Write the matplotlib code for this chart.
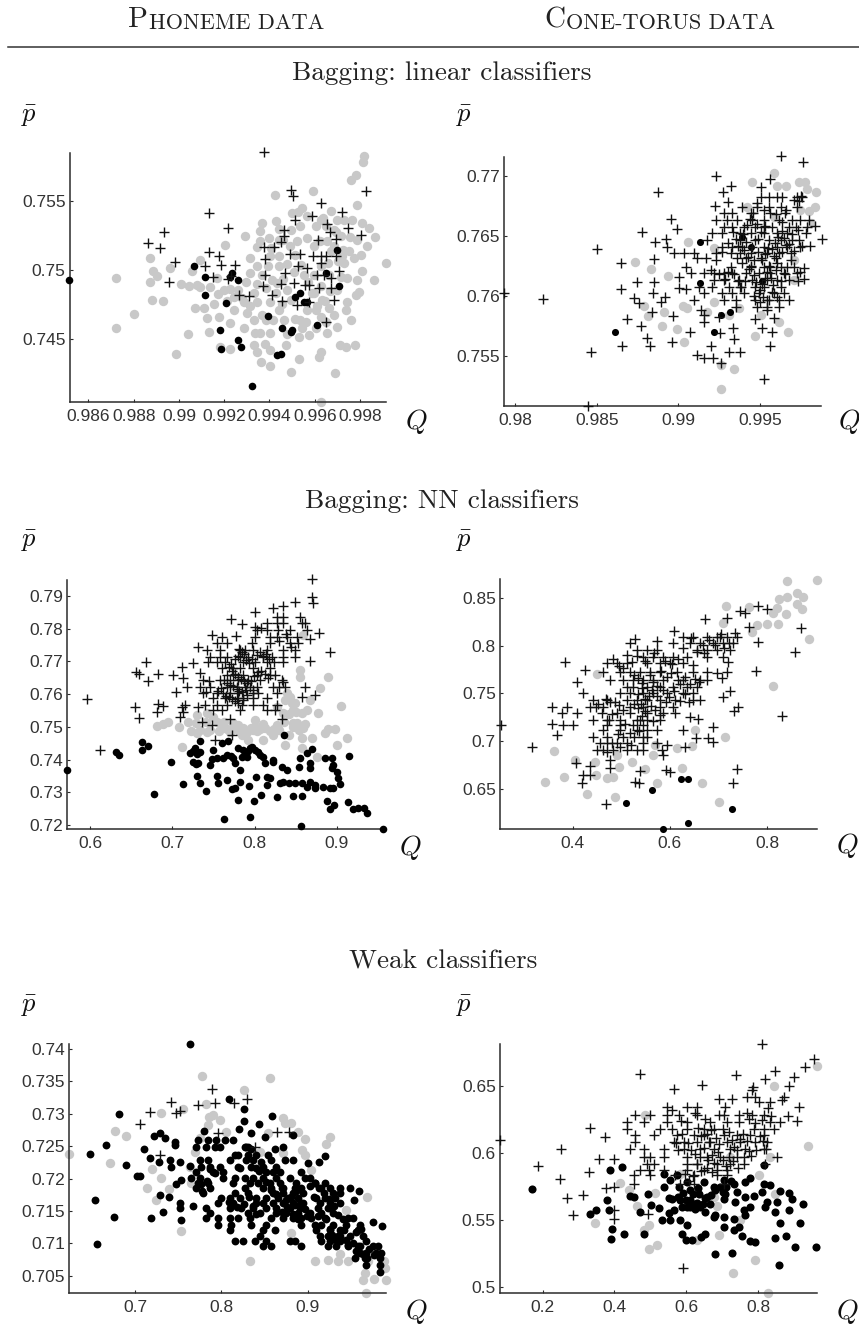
import matplotlib
matplotlib.use("Agg")
import matplotlib.pyplot as plt

W, H = 859, 1328

section_titles = ["Bagging: linear classifiers", "Bagging: NN classifiers", "Weak classifiers"]

a_xticks = [.986, .988, .99, .992, .994, .996, .998]
a_yticks = [.745, .75, .755]
a_xlabels = ["0.986", "0.988", "0.99", "0.992", "0.994", "0.996", "0.998"]
a_ylabels = ["0.745", "0.75", "0.755"]
a_plus = [(.99376,.75857),(.99496,.75586),(.99505,.75538),(.99626,.75489),(.99828,.75574),(.99719,.75426),(.99589,.75392),(.99511,.75368),(.99655,.75339),(.99748,.75307),(.99463,.75295),(.99667,.75278),(.99465,.75247),(.99806,.75259),(.99695,.7523),(.99614,.75223),(.99452,.75203),(.99419,.7517),(.99375,.7517),(.99378,.75082),(.99133,.75414),(.99217,.75307),(.98934,.75278),(.98861,.75199),(.98917,.75165),(.98984,.75058),(.98957,.7492),(.99134,.75133),(.99178,.75102),(.99117,.75029),(.99187,.75041),(.99246,.75041),(.99149,.74952),(.99217,.74937),(.99232,.74961),(.99266,.74823),(.99308,.74816),(.99382,.74969),(.9937,.74884),(.99412,.74823),(.99453,.74901),(.99456,.7478),(.99467,.74981),(.9949,.75121),(.99537,.75121),(.99527,.75029),(.99508,.74908),(.99523,.74751),(.99574,.74768),(.99555,.74896),(.99574,.74896),(.99567,.75017),(.99593,.75102),(.99629,.75102),(.99648,.75102),(.99629,.75053),(.99608,.74969),(.99641,.74969),(.99618,.74872),(.9967,.74872),(.99673,.74944),(.99685,.74787),(.99707,.74993),(.99692,.75102),(.99652,.7463)]
a_black = [(.98516,.74932),(.99065,.75029),(.99115,.74956),(.99117,.74823),(.99208,.74763),(.99234,.74981),(.99224,.74952),(.9926,.74932),(.99183,.74569),(.99261,.74496),(.99272,.74443),(.99187,.74431),(.99323,.74165),(.99393,.7467),(.99456,.74586),(.995,.74569),(.99496,.74552),(.99434,.74387),(.99452,.74395),(.99511,.74806),(.99537,.74835),(.99552,.74775),(.99567,.74775),(.99611,.74605),(.99648,.74981),(.99707,.74891),(.997,.7515)]
a_gray = [(.98721,.74944),(.98721,.74586),(.98802,.74685),(.9887,.7509),(.98885,.74993),(.98903,.74961),(.9887,.7492),(.9888,.74787),(.98928,.74782),(.98988,.74395),(.98962,.75017),(.99009,.74903),(.99043,.74884),(.99038,.7454),(.99072,.74726),(.99818,.75828),(.99813,.75787),(.99781,.75688),(.99762,.75659),(.99917,.75053),(.99424,.75545),(.99592,.75574),(.99545,.75453),(.99501,.75416),(.99788,.75477),(.9967,.75429),(.99567,.75392),(.99367,.75344),(.99431,.75356),(.9936,.75283),(.99291,.75252),(.99397,.75235),(.99537,.7532),(.99626,.75368),(.997,.75368),(.99766,.75368),(.9981,.75344),(.9984,.75307),(.99865,.75242),(.99832,.75174),(.99202,.75182),(.99094,.75077),(.99316,.7509),(.99774,.7509),(.9981,.74993),(.99862,.74932),(.99788,.74932),(.99796,.74847),(.99781,.74823),(.99744,.74775),(.99737,.74714),(.99762,.74642),(.997,.74593),(.99655,.74545),(.99711,.7446),(.99737,.74443),(.99776,.7446),(.99629,.74412),(.99621,.74375),(.9953,.74358),(.99496,.74266),(.99689,.74259),(.99626,.74048),(.99404,.74308),(.99363,.74339),(.99404,.74424),(.99331,.7446),(.99227,.74429),(.99183,.74448),(.99134,.74552),(.99176,.74666),(.99227,.74617),(.99286,.74581),(.99338,.74545),(.99404,.74545),(.99471,.7446),(.9953,.74521),(.99574,.74533),(.99124,.74654),(.99112,.74726),(.99154,.74758),(.9908,.74896),(.99094,.74879),(.99058,.74993),(.99168,.74944),(.99198,.7486),(.99242,.74811),(.99286,.74775),(.99242,.74714),(.99301,.7469),(.99345,.74775),(.99331,.74642),(.99316,.74981),(.99345,.75029),(.99404,.75102),(.99441,.75029),(.99434,.74908),(.99404,.74775),(.99441,.74714),(.99463,.74642),(.99493,.74787),(.99537,.74642),(.99567,.74714),(.99545,.74581),(.99604,.74714),(.99626,.74666),(.99663,.74726),(.99596,.74835),(.99633,.74787),(.99685,.74678),(.997,.7486),(.99744,.74944),(.99729,.75053),(.99751,.75138),(.99788,.75223),(.99714,.75247),(.99655,.75211),(.99567,.75235),(.99522,.75211),(.99493,.75295),(.99441,.75223),(.9936,.75211),(.99441,.75102),(.99596,.75174),(.9967,.75138),(.99722,.75102),(.99604,.7532),(.99685,.75295),(.99729,.75368),(.99626,.75029),(.99508,.7499),(.99552,.74966),(.99385,.74642),(.99512,.7465),(.99658,.75055),(.99492,.7518),(.99385,.74875),(.99225,.74868),(.99596,.74968)]
a_gray_dense = [(.99623,.7521),(.99648,.7532),(.99683,.7518),(.99704,.7507),(.99661,.7497),(.99626,.7489),(.99644,.7478),(.99609,.7474),(.99587,.7484),(.99571,.7492),(.99538,.7504),(.99513,.7511),(.99477,.7505),(.99461,.7494),(.99479,.7486),(.99456,.7476),(.99428,.7484),(.99409,.7493),(.99392,.7503),(.99366,.7497),(.99346,.7490),(.99331,.7484),(.99312,.7474),(.99368,.7468),(.99417,.7464),(.99358,.7455),(.99381,.7447),(.99346,.7441),(.99478,.7454),(.99563,.7463),(.99604,.7458),(.99648,.7463),(.99668,.7485),(.99718,.7495),(.99726,.7515),(.99693,.7528),(.99636,.7538),(.99758,.7524),(.99803,.7511),(.99262,.7486),(.99278,.7480),(.99214,.7478),(.99172,.7483),(.99138,.7488),(.99296,.7492),(.99444,.7530),(.99408,.7516),(.99525,.7542),(.99458,.7522),(.99345,.7517)]

b_xticks = [.98, .985, .99, .995]
b_yticks = [.755, .76, .765, .77]
b_xlabels = ["0.98", "0.985", "0.99", "0.995"]
b_ylabels = ["0.755", "0.76", "0.765", "0.77"]
b_plus = [(.98168,.75972),(.98501,.76389),(.98464,.75528),(.98446,.75083),(.97933,.76019),(.98648,.76275),(.98648,.76058),(.98652,.75583),(.98685,.75806),(.98777,.76528),(.98875,.76861),(.98957,.76639),(.98992,.76556),(.98853,.76444),(.98922,.76472),(.9893,.76403),(.98849,.76306),(.98747,.76111),(.98726,.75978),(.98757,.75942),(.98849,.76111),(.98845,.76019),(.98839,.75861),(.98773,.7575),(.98808,.75644),(.98828,.75583),(.98961,.75617),(.98965,.75833),(.9889,.7595),(.9892,.75992),(.99002,.76158),(.99002,.76061),(.99049,.76053),(.9907,.75694),(.99094,.75964),(.99114,.75506),(.99155,.75478),(.99213,.75478),(.99258,.75442),(.99202,.75583),(.99309,.75528),(.99376,.75528),(.99343,.75639),(.99335,.75728),(.99253,.75686),(.99155,.75783),(.99155,.75839),(.99247,.75825),(.99472,.75806),(.99513,.75728),(.99574,.757),(.99564,.75583),(.99527,.75306),(.99585,.75811),(.99231,.77),(.99319,.76914),(.99274,.76861),(.99221,.76747),(.99305,.76778),(.9963,.77167),(.99762,.77111),(.99564,.76972),(.99503,.76908),(.99881,.76475),(.99809,.76414),(.9984,.76583),(.99769,.76228),(.99769,.76136),
(.99503,.76825),(.99554,.76825),(.99605,.76825),(.99636,.76825),(.99728,.76825),(.99758,.76825),
(.9939,.76742),(.99482,.76742),(.99554,.76742),(.99626,.76742),(.99728,.76742),
(.99278,.76686),(.99329,.76686),(.99442,.76686),(.99564,.76686),(.99656,.76686),
(.99227,.76631),(.99298,.76631),(.9936,.76631),(.99452,.76631),(.99523,.76631),(.99615,.76631),(.99697,.76631),(.99748,.76631),(.99799,.76631),
(.99278,.76575),(.99329,.76575),(.99401,.76575),(.99472,.76575),(.99523,.76575),(.99574,.76575),(.99677,.76575),(.99789,.76575),
(.99206,.76519),(.99268,.76519),(.9938,.76519),(.99442,.76519),(.99523,.76519),(.99605,.76519),(.99666,.76519),(.99779,.76519),
(.99176,.76464),(.9938,.76464),(.99472,.76464),(.99554,.76464),(.99626,.76464),(.99697,.76464),(.99738,.76464),
(.99268,.76408),(.99329,.76408),(.9939,.76408),(.99452,.76408),(.99523,.76408),(.99605,.76408),(.99666,.76408),(.99748,.76408),
(.98971,.76353),(.99033,.76353),(.99094,.76353),(.99227,.76353),(.99319,.76353),(.9938,.76353),(.99442,.76353),(.99544,.76353),(.99615,.76353),(.99687,.76353),
(.99114,.76311),(.99166,.76311),(.9936,.76311),(.99411,.76311),(.99503,.76311),(.99595,.76311),
(.99049,.76242),(.99319,.76242),(.99442,.76242),(.99523,.76242),(.99564,.76242),(.99626,.76242),(.99707,.76242),
(.99074,.76186),(.99155,.76186),(.99217,.76186),(.99278,.76186),(.99329,.76186),(.99411,.76186),(.99493,.76186),(.99564,.76186),(.99646,.76186),(.99728,.76186),
(.99217,.76131),(.99278,.76131),(.9937,.76131),(.99452,.76131),(.99544,.76131),(.99605,.76131),(.99677,.76131),
(.99125,.76075),(.99206,.76075),(.99309,.76075),(.9938,.76075),(.99472,.76075),(.99523,.76075),(.99626,.76075),
(.99155,.76019),(.99268,.76019),(.99329,.76019),(.99401,.76019),(.99493,.76019),(.99585,.76019),(.99646,.76019),
(.99278,.75964),(.9935,.75964),(.99472,.75964),(.99544,.75964),(.99615,.75964),(.99677,.75964),
(.9935,.75908),(.99482,.75908),(.99544,.75908),(.99615,.75908),(.99135,.75881),(.99544,.75881)]
b_plus_dense = [(.99396,.7651),(.99414,.7645),(.99402,.7638),(.99425,.7632),(.99391,.7627),(.99433,.7622),(.99462,.7617),(.99478,.7611),(.99497,.7605),(.99513,.7610),(.99528,.7615),(.99542,.7620),(.99553,.7625),(.99567,.7615),(.99581,.7609),(.99574,.7603),(.99596,.7621),(.99607,.7627),(.99587,.7633),(.99571,.7639),(.99593,.7644),(.99612,.7649),(.99634,.7654),(.99648,.7648),(.99658,.7642),(.99637,.7636),(.99486,.7647),(.99508,.7653),(.99532,.7658),(.99487,.7636),(.99463,.7630),(.99447,.7625),(.99512,.7630),(.99533,.7635),(.99547,.7640),(.99419,.7659),(.99437,.7664),(.99457,.7669),(.99483,.7660),(.99408,.7612),(.99386,.7607),(.99362,.7612),(.99342,.7618),(.99304,.7620),(.99288,.7614),(.99247,.7618),(.99199,.7621),(.99232,.7630),(.99266,.7636),(.99302,.7644),(.99336,.7653),(.99352,.7647),(.99364,.7641),(.99521,.7599),(.99498,.7595),(.99465,.7600),(.99558,.7596),(.99601,.7599),(.99627,.7612),(.99651,.7618),(.99668,.7624),(.99688,.7630),(.99708,.7637),(.99678,.7643),(.99694,.7651),(.99718,.7657),(.99636,.7661),(.99596,.7668),(.99523,.7671),(.99483,.7677),(.99662,.7671),(.99708,.7680),(.99752,.7683),(.99738,.7679),(.99733,.7655),(.99759,.7641),(.99745,.7620),(.99732,.7612)]
b_black = [(.98608,.75694),(.99131,.76444),(.99131,.76103),(.99217,.75694),(.99313,.75861),(.99258,.75839),(.99446,.76408),(.99513,.76122),(.9939,.76492)]
b_gray = [(.99585,.77025),(.99452,.76944),(.99738,.76944),(.99773,.76944),(.99605,.76914),(.99662,.76914),(.99789,.76886),(.99844,.76861),(.99834,.76742),(.99799,.76708),(.99748,.76714),(.99421,.76742),(.9981,.76603),(.99057,.76444),(.98732,.76278),(.98834,.76222),(.98935,.76167),(.98787,.75917),(.98812,.75831),(.9891,.75867),(.98896,.7575),(.98988,.75722),(.99033,.75611),(.99027,.75917),(.99053,.75894),(.99217,.75944),(.99258,.75422),(.99339,.75389),(.99258,.75222),(.99472,.75667),(.9967,.75694),(.99615,.75778),(.99503,.75839),(.9937,.75894),(.99309,.75839),(.99176,.75861),(.99707,.76297),(.99707,.76131),(.99585,.76658),(.99217,.76394)]

c_xticks = [.6, .7, .8, .9]
c_yticks = [.72, .73, .74, .75, .76, .77, .78, .79]
c_xlabels = ["0.6", "0.7", "0.8", "0.9"]
c_ylabels = ["0.72", "0.73", "0.74", "0.75", "0.76", "0.77", "0.78", "0.79"]
c_plus = [(.87012,.79516),(.87012,.78965),(.87093,.78802),(.84941,.78812),(.8352,.787),(.82302,.78629),(.80069,.78527),(.77146,.78303),(.78526,.7815),(.87905,.77864),(.86768,.77681),(.89205,.77283),(.86768,.77),(.8616,.76233),(.87377,.75979),(.85753,.75928),(.74872,.77813),(.77755,.77793),(.73167,.77457),(.66752,.76978),(.65575,.76672),(.6594,.76611),(.67077,.76417),(.68214,.76611),(.59565,.75856),(.65453,.75622),(.6598,.75285),(.6119,.74297),(.68214,.75703),(.68904,.75652),(.68173,.75449),(.70041,.7659),(.71137,.76825),(.7134,.76488),(.70406,.7608),(.71746,.76233),(.71137,.75601),(.71543,.75673),(.71259,.75469),(.70934,.75296),(.73573,.75163),(.74791,.75061),(.75197,.74602),(.77308,.74755),(.77024,.75234),(.83398,.75234),(.72477,.7695),(.7337,.76641),(.73167,.75622),
(.82708,.78374),(.8352,.78374),(.8555,.78374),
(.8149,.7817),(.82708,.7817),(.8352,.7817),(.85753,.7817),(.8616,.7817),
(.80272,.77966),(.8149,.77966),(.82911,.77966),(.84332,.77966),(.86362,.77966),
(.76009,.77762),(.80069,.77762),(.82708,.77762),(.83926,.77762),(.85144,.77762),
(.754,.77559),(.76618,.77559),(.79663,.77559),(.81896,.77559),(.84332,.77559),(.85347,.77559),
(.74182,.77355),(.75806,.77355),(.78242,.77355),(.78851,.77355),(.79866,.77355),(.8149,.77355),(.8352,.77355),(.84941,.77355),
(.74588,.77151),(.75806,.77151),(.76618,.77151),(.78242,.77151),(.79257,.77151),(.81084,.77151),(.82099,.77151),(.8352,.77151),(.84941,.77151),
(.74385,.76998),(.754,.76998),(.76415,.76998),(.78648,.76998),(.80069,.76998),(.8149,.76998),(.8352,.76998),
(.76009,.76794),(.7743,.76794),(.78242,.76794),(.79866,.76794),(.81896,.76794),
(.76618,.7659),(.7743,.7659),(.78648,.7659),(.80272,.7659),(.81896,.7659),(.82505,.7659),
(.73776,.76437),(.75806,.76437),(.77024,.76437),(.78039,.76437),(.79257,.76437),(.80678,.76437),(.83317,.76437),
(.7337,.76233),(.74588,.76233),(.76618,.76233),(.77836,.76233),(.78851,.76233),(.80272,.76233),(.82302,.76233),(.83723,.76233),
(.73776,.7603),(.754,.7603),(.77024,.7603),(.78039,.7603),(.79866,.7603),(.80475,.7603),(.82708,.7603),
(.74994,.75877),(.76415,.75877),(.77836,.75877),(.78648,.75877),(.79866,.75877),(.8149,.75877),
(.73979,.75673),(.754,.75673),(.76618,.75673),(.78445,.75673),(.79866,.75673),(.81084,.75673),(.82708,.75673),
(.74994,.7552),(.76009,.7552),(.78242,.7552),(.8149,.7552),(.82505,.7552)]
c_plus_dense = [(.7812,.7738),(.7851,.7729),(.7873,.7722),(.7794,.7718),(.7762,.7709),(.7891,.7703),(.7932,.7695),(.7973,.7708),(.8027,.7721),(.8063,.7729),(.8102,.7716),(.8136,.7724),(.8174,.7708),(.8231,.7697),(.7713,.7691),(.7688,.7682),(.7724,.7672),(.7762,.7661),(.7798,.7653),(.7834,.7646),(.7871,.7639),(.7912,.7633),(.7954,.7641),(.7992,.7654),(.8041,.7667),(.8083,.7672),(.8128,.7663),(.8167,.7648),(.7632,.7643),(.7664,.7634),(.7703,.7628),(.7742,.7624),(.7783,.7617),(.7814,.7611),(.7848,.7608),(.7893,.7614),(.7941,.7622),(.7978,.7612),(.7587,.7618),(.7551,.7611),(.7612,.7603),(.7658,.7595),(.7693,.7591),(.7728,.7584),(.7761,.7578),(.7803,.7572),(.7856,.7582),(.7908,.7596),(.7442,.7641),(.7412,.7607),(.8297,.7622),(.8345,.7637),(.8384,.7784),(.8442,.7743),(.8297,.7762),(.8191,.7775),(.8078,.7802),(.8002,.7805)]
c_black = [(.57211,.73685),(.66265,.74551),(.66265,.74297),(.67077,.74429),(.63098,.74246),(.63544,.74144),(.67767,.72951),(.69797,.7394),(.7134,.73247),(.7337,.74582),(.72152,.74215),(.72761,.74348),(.7337,.74246),(.72558,.7394),(.73167,.73889),(.72964,.73501),(.7337,.73277),(.74101,.73053),(.74588,.73838),(.74994,.74297),(.754,.74042),(.76009,.74501),(.76821,.74572),(.75481,.73501),(.75603,.73277),(.76618,.73379),(.77227,.73104),(.77633,.73124),(.76293,.72187),(.76618,.74144),(.7743,.74042),(.77633,.73889),(.78039,.74348),(.78242,.73685),(.78242,.73308),(.78039,.72768),(.78445,.74093),(.79257,.74276),(.79054,.74093),(.79663,.74399),(.80475,.74246),(.81084,.74093),(.81287,.73889),(.8015,.73481),(.79338,.73206),(.79947,.72747),(.7946,.72258),(.8076,.7292),(.8149,.73481),(.81896,.7345),(.8149,.73226),(.82302,.73991),(.82789,.7287),(.83317,.73787),(.83926,.73685),(.83114,.73298),(.8352,.73328),(.84251,.73277),(.84738,.729),(.84941,.73277),(.85753,.73277),(.85753,.729),(.85428,.73787),(.8555,.74042),(.86362,.74195),(.86971,.74317),(.86768,.73889),(.86768,.73756),(.86362,.73175),(.86768,.73308),(.87377,.73226),(.87377,.73124),(.88392,.73155),(.89205,.73124),(.8961,.73124),(.88595,.74062),(.89408,.74042),(.89408,.73736),(.90016,.73634),(.90219,.7343),(.90422,.73257),(.8961,.73838),(.8888,.72737),(.89205,.72482),(.89732,.72615),(.91356,.72717),(.92047,.72492),(.92656,.72513),(.93346,.72533),(.93671,.7236),(.91518,.74123),(.85631,.71983),(.95696,.71881),(.83601,.74745),(.82302,.7394),(.7245,.7427),(.7305,.7416),(.7285,.7387),(.7482,.7403),(.7612,.7406),(.7711,.7412),(.7864,.7428),(.7902,.7416),(.7947,.7435),(.8005,.7429),(.8071,.7413)]
c_gray = [(.68173,.75031),(.68904,.75092),(.69432,.75143),(.70853,.7501),(.71949,.75163),(.72964,.75367),(.7337,.74908),(.74182,.74857),(.74994,.75316),(.76009,.74959),(.77024,.74857),(.78039,.75061),(.79257,.74602),(.79866,.74908),(.81084,.74602),(.81287,.74959),(.82302,.74755),(.82708,.75061),(.83723,.7445),(.83723,.75826),(.84738,.7552),(.85144,.75112),(.85753,.74348),(.86971,.74674),(.8758,.74093),(.88595,.74827),(.89002,.74929),(.89814,.74939),(.90098,.7445),(.91234,.74653),(.90504,.75652),(.89002,.76519),(.87986,.76182),(.8555,.76743),(.8555,.76539),(.85875,.77813),(.87783,.75418),(.86768,.75826),(.84332,.75928),(.71137,.74399),(.72964,.74806),(.8352,.75418),(.84738,.7501),(.85753,.75418),(.85956,.74959),(.82708,.75622),(.80069,.75214),(.7743,.75112),(.754,.75163),(.74182,.75418),(.83926,.7603),(.86362,.7552),(.78648,.74959),(.8,.7501),(.7625,.7515),(.8425,.7475),(.7231,.7488),(.7282,.7512),(.7404,.7516),(.7461,.7491),(.7563,.7487),(.7664,.7492),(.7733,.7495),(.7806,.7488),(.7851,.7476),(.7908,.7483),(.7962,.7497),(.8034,.7487),(.8067,.7495),(.8105,.7508),(.8183,.7488),(.8234,.7494),(.8293,.7491),(.8362,.7516),(.8418,.7538),(.8463,.7512),(.8502,.7545),(.8541,.7491),(.8574,.7466),(.8618,.7508),(.8453,.7572),(.8496,.7572)]

d_xticks = [.4, .6, .8]
d_yticks = [.65, .7, .75, .8, .85]
d_xlabels = ["0.4", "0.6", "0.8"]
d_ylabels = ["0.65", "0.7", "0.75", "0.8", "0.85"]
d_plus = [(.38388,.78322),(.42504,.77448),(.40789,.76224),(.35643,.73601),(.35643,.71748),(.36672,.70629),(.25146,.71678),(.31526,.69406),(.40583,.67657),(.41818,.6556),(.42024,.66434),(.43533,.66434),(.43533,.67413),(.46826,.63357),(.4765,.67133),(.4765,.68007),(.52796,.80664),(.57256,.8049),(.52796,.65734),(.53688,.65559),(.53825,.66853),(.59177,.66976),(.6,.66797),(.58628,.68531),(.59451,.6958),(.63087,.69406),(.62607,.71154),(.65283,.7035),(.6775,.7035),(.68782,.6986),(.68919,.71503),(.64117,.72483),(.65695,.72273),(.73173,.73147),(.74065,.73531),(.73722,.67028),(.73036,.65559),(.82985,.72657),(.77702,.77378),(.85729,.79301),(.86964,.81888),(.79897,.83881),(.78182,.84161),(.75437,.83392),(.74408,.83671),(.71664,.82867),(.67204,.82762),(.76329,.81993),(.78182,.8042),(.72007,.78252),(.71664,.77273),(.69605,.77168),(.70635,.76573),(.7235,.7528),(.70978,.7465),(.60892,.81538),
(.62744,.80944),(.64803,.80944),(.67547,.80944),(.69605,.80944),(.71664,.80944),(.73722,.80944),
(.51767,.80245),(.60686,.80245),(.64117,.80245),(.66175,.80245),(.68919,.80245),(.70978,.80245),(.73036,.80245),
(.53139,.79545),(.55197,.79545),(.57256,.79545),(.65489,.79545),(.67547,.79545),(.69605,.79545),(.7235,.79545),
(.54511,.78846),(.56569,.78846),(.58628,.78846),(.60686,.78846),(.6343,.78846),(.67547,.78846),(.70978,.78846),
(.46964,.78147),(.49022,.78147),(.51081,.78147),(.55197,.78147),(.57942,.78147),(.6,.78147),(.62744,.78147),
(.46278,.77273),(.49708,.77273),(.51767,.77273),(.53825,.77273),(.55883,.77273),(.57942,.77273),(.61372,.77273),(.64803,.77273),(.67547,.77273),
(.4765,.76399),(.50395,.76399),(.52453,.76399),(.54511,.76399),(.56569,.76399),(.58628,.76399),(.62744,.76399),(.66175,.76399),(.67547,.76399),
(.51081,.75699),(.52453,.75699),(.55197,.75699),(.57942,.75699),(.60686,.75699),(.6343,.75699),(.65489,.75699),
(.42161,.75),(.49708,.75),(.51767,.75),(.54511,.75),(.56569,.75),(.59314,.75),(.62744,.75),(.64803,.75),
(.4422,.74301),(.46964,.74301),(.51081,.74301),(.53139,.74301),(.55197,.74301),(.57942,.74301),(.61029,.74301),(.64803,.74301),(.66175,.74301),
(.3873,.73601),(.43533,.73601),(.46278,.73601),(.51767,.73601),(.54511,.73601),(.57942,.73601),(.60686,.73601),
(.37702,.72902),(.40789,.72902),(.45935,.72902),(.49022,.72902),(.51767,.72902),(.55197,.72902),(.58628,.72902),(.61029,.72902),
(.4422,.72203),(.46964,.72203),(.49708,.72203),(.53139,.72203),(.55197,.72203),(.57942,.72203),
(.38044,.71678),(.40103,.71678),(.46964,.71678),(.49708,.71678),(.52453,.71678),(.54511,.71678),
(.46278,.71154),(.49708,.71154),(.53139,.71154),(.55197,.71154),(.57256,.71154),
(.4422,.70455),(.46964,.70455),(.50395,.70455),(.55197,.70455),
(.45592,.69755),(.46964,.69755),(.49022,.69755),(.51081,.69755),(.54511,.69755),(.57256,.69755),
(.44906,.69056),(.46278,.69056),(.48336,.69056),(.51081,.69056),(.53139,.69056),(.54511,.69056),(.58285,.69056)]
d_plus_dense = [(.4832,.7862),(.4956,.7791),(.5043,.7763),(.5261,.7692),(.5348,.7662),(.5427,.7612),(.5583,.7688),(.5644,.7617),(.5725,.7581),(.5823,.7732),(.5936,.7668),(.6033,.7712),(.6164,.7641),(.6218,.7594),(.6316,.7673),(.6412,.7601),(.6522,.7652),(.6605,.7622),(.5351,.7495),(.5417,.7561),(.5484,.7438),(.5562,.7474),(.5639,.7536),(.5738,.7476),(.5852,.7534),(.5918,.7412),(.5986,.7465),(.6095,.7528),(.6203,.7416),(.6312,.7496),(.6394,.7413),(.5262,.7388),(.5336,.7342),(.5407,.7384),(.5488,.7312),(.5618,.7366),(.5692,.7323),(.5806,.7271),(.5031,.7325),(.4956,.7382),(.4873,.7406),(.4765,.7411),(.4691,.7442),(.4524,.7392),(.4476,.7352),(.4816,.7286),(.4753,.7218),(.5082,.7174),(.5381,.7222),(.5417,.7266),(.5643,.7214),(.4923,.7078),(.5186,.7084),(.5254,.7038),(.5372,.7102),(.5453,.7046),(.4808,.6983),(.4972,.6938),(.5207,.6955),(.4706,.6885),(.6553,.7932),(.6687,.8012),(.6814,.8063),(.6933,.8002),(.7028,.8088),(.7117,.7972),(.6445,.8085),(.6268,.7972),(.6163,.7862),(.6052,.7804),(.5903,.7841),(.5675,.7922),(.5487,.7835),(.5318,.7892),(.5229,.7824),(.5124,.7905),(.6472,.7802),(.6711,.7923),(.7048,.8123),(.7224,.8024),(.7338,.8136)]
d_black = [(.51012,.63531),(.56226,.6486),(.62196,.65979),(.63773,.66049),(.72693,.62867),(.63636,.61364),(.58491,.60769)]
d_gray = [(.84151,.86783),(.90189,.86888),(.86072,.8549),(.87444,.8507),(.84151,.8507),(.82504,.8486),(.86072,.84336),(.87238,.83846),(.83877,.83322),(.81955,.83916),(.81269,.83392),(.82299,.82273),(.79897,.82273),(.77839,.82168),(.8861,.80699),(.71527,.84161),(.76329,.84091),(.7681,.81469),(.70978,.82343),(.81269,.75769),(.71321,.70385),(.65146,.71154),(.44906,.77028),(.36192,.68986),(.34271,.65664),(.3825,.66259),(.40446,.68007),(.42847,.64441),(.447,.66434),(.46964,.66154),(.48199,.66189),(.48679,.64091),(.49503,.67238),(.5211,.67832),(.54854,.6703),(.57393,.65559),(.62401,.67133),(.66518,.65559),(.70086,.63636),(.56913,.6958),(.56569,.68531),(.61372,.69231),(.6446,.6951),(.49022,.68531),(.44563,.67832)]

e_xticks = [.7, .8, .9]
e_yticks = [.705, .71, .715, .72, .725, .73, .735, .74]
e_xlabels = ["0.7", "0.8", "0.9"]
e_ylabels = ["0.705", "0.71", "0.715", "0.72", "0.725", "0.73", "0.735", "0.74"]
e_plus = [(.7896,.7338),(.79306,.73169),(.77303,.73133),(.7422,.73174),(.7526,.73041),(.74798,.73005),(.71715,.73021),(.70559,.72841),(.72871,.72364),(.79615,.72697),(.81464,.73159),(.82967,.73221),(.83854,.72482),(.86474,.72713),(.87784,.72723)]
e_gray = [(.77803,.7358),(.85588,.73554),(.8262,.73364),(.78189,.73149),(.75568,.73072),(.72987,.7301),(.79037,.72979),(.78574,.72954),(.79807,.72903),(.78459,.72826),(.80501,.72723),(.67669,.72738),(.69017,.72662),(.62389,.7238),(.67168,.72246),(.71985,.72144),(.73064,.72005),(.71407,.71862),(.7395,.71836),(.72408,.71672),(.75376,.71195),(.77495,.72621),(.76917,.72405),(.83276,.70723),(.87129,.72928),(.87322,.72851),(.88092,.72862),(.88863,.72723),(.85395,.72697),(.84432,.72415),(.89634,.7261),(.92524,.72636),(.92062,.72533),(.89364,.72441),(.89634,.72364),(.87129,.7239),(.90405,.72133),(.9684,.71713),(.88092,.71159),(.90867,.70733),(.92331,.70749),(.9368,.70841),(.93487,.70738),(.94644,.70723),(.96956,.70733),(.98815,.70733),(.98931,.70621),(.99008,.70441),(.97611,.70451),(.9657,.70544),(.96378,.70441),(.96763,.70236),(.94451,.71518),(.7634,.72185),(.76532,.71928)]
e_black = [(.76416,.74072),(.6817,.72995),(.66628,.72518),(.64855,.7238),(.6894,.7221),(.65434,.71672),(.67553,.71405),(.65626,.70995),(.7025,.72046),(.70559,.72046),(.7106,.72451),(.71715,.72323),(.71907,.714),(.72177,.72662),(.72871,.72708),(.73449,.72621),(.72794,.72262),(.72871,.71749),(.73256,.71492),(.7395,.71723),(.74027,.72287),(.74605,.72569),(.74605,.72518),(.7422,.72185),(.75183,.72262),(.75376,.71979),(.74798,.71918),(.75183,.71621),(.75183,.71544),(.75376,.71364),(.76724,.71585),(.7634,.72195),(.80848,.73221),(.8262,.73072),(.8262,.72892),(.82042,.72764),(.85896,.72969),(.84355,.72841),(.83468,.72708),(.8501,.72636),(.77958,.72733),(.88285,.72672),(.87129,.72492),(.86166,.72451),(.8289,.72482),(.91946,.72349),(.91291,.72262),(.90019,.72236),(.88285,.72287),(.98613,.71277),(.97534,.71328),(.95915,.71815),(.95299,.71672),
(.77303,.72595),(.78459,.72595),(.79422,.72595),(.80385,.72595),(.81349,.72595),
(.7711,.72492),(.78266,.72492),(.79229,.72492),(.79807,.72492),(.82697,.72492),(.83083,.72492),
(.81541,.72364),(.81927,.72364),(.83083,.72364),(.84046,.72364),(.85395,.72364),
(.77495,.72287),(.78459,.72287),(.80963,.72287),(.83661,.72287),(.8578,.72287),(.87322,.72287),
(.77688,.72185),(.78651,.72185),(.79807,.72185),(.81927,.72185),(.83468,.72185),(.84817,.72185),(.86358,.72185),
(.7711,.72108),(.79037,.72108),(.80193,.72108),(.85202,.72108),(.85973,.72108),(.86744,.72108),(.89249,.72108),
(.76532,.72005),(.77495,.72005),(.80193,.72005),(.81541,.72005),(.82697,.72005),(.83661,.72005),(.84817,.72005),(.86358,.72005),(.879,.72005),(.89634,.72005),(.90212,.72005),
(.77303,.71928),(.78459,.71928),(.81349,.71928),(.83276,.71928),(.84239,.71928),(.85588,.71928),(.86744,.71928),(.8867,.71928),(.9079,.71928),(.91946,.71928),
(.7711,.71851),(.78651,.71851),(.82697,.71851),(.84817,.71851),(.8578,.71851),(.87129,.71851),(.88478,.71851),(.89249,.71851),(.91561,.71851),(.92524,.71851),(.9368,.71851),(.94836,.71851),
(.77881,.71774),(.81541,.71774),(.83083,.71774),(.85973,.71774),(.87129,.71774),(.88285,.71774),(.89441,.71774),(.92909,.71774),(.9368,.71774),
(.8,.71697),(.80963,.71697),(.8212,.71697),(.84046,.71697),(.85202,.71697),(.86551,.71697),(.87707,.71697),(.88863,.71697),(.90983,.71697),(.91946,.71697),(.93102,.71697),
(.79615,.71621),(.81349,.71621),(.84046,.71621),(.84817,.71621),(.85973,.71621),(.87129,.71621),(.88285,.71621),(.89441,.71621),(.91368,.71621),(.92524,.71621),(.9368,.71621),
(.78266,.71544),(.80963,.71544),(.82312,.71544),(.83661,.71544),(.85202,.71544),(.86358,.71544),(.879,.71544),(.89056,.71544),(.91175,.71544),(.92331,.71544),
(.78651,.71467),(.83083,.71467),(.84432,.71467),(.86358,.71467),(.87514,.71467),(.88863,.71467),(.90212,.71467),(.91561,.71467),(.92909,.71467),
(.78266,.7139),(.79615,.7139),(.80963,.7139),(.81927,.7139),(.83276,.7139),(.8578,.7139),(.87129,.7139),(.88285,.7139),(.89249,.7139),(.90405,.7139),(.91946,.7139),(.94644,.7139),(.95222,.7139),
(.79615,.71287),(.81156,.71287),(.83468,.71287),(.85202,.71287),(.89249,.71287),(.9079,.71287),(.92909,.71287),(.94451,.71287),(.95992,.71287),
(.80963,.7121),(.84817,.7121),(.86166,.7121),(.90983,.7121),(.92524,.7121),(.9368,.7121),(.958,.7121),
(.84432,.71108),(.91368,.71108),(.92331,.71108),(.93487,.71108),(.94836,.71108),(.96378,.71108),
(.81541,.71031),(.82505,.71031),(.83854,.71031),(.85202,.71031),(.879,.71031),(.88478,.71031),(.91561,.71031),(.92524,.71031),(.9368,.71031),(.96763,.71031),
(.84817,.70954),(.8578,.70954),(.89249,.70954),(.92331,.70954),(.93295,.70954),(.94644,.70954),(.958,.70954),(.97534,.70954),(.98112,.70954),
(.95992,.70851),(.96763,.70851),(.97919,.70851),(.98497,.70851),
(.95414,.70774),(.9657,.70774),(.98304,.70774),
(.96763,.70672),(.98304,.70672),(.98304,.70559)]
e_black_dense = [(.8462,.7225),(.8438,.7212),(.8517,.7194),(.8572,.7183),(.8632,.7176),(.8694,.7186),(.8743,.7167),(.8807,.7172),(.8848,.7159),(.8867,.7181),(.8915,.7163),(.8968,.7153),(.8703,.7148),(.8761,.7156),(.8832,.7146),(.8882,.7137),(.8984,.7143),(.9066,.7172),(.9112,.7142),(.9148,.7128),(.9213,.7137),(.9251,.7122),(.9283,.7113),(.9322,.7105),(.9373,.7112),(.9415,.7121),(.9436,.7105),(.9462,.7097),(.9523,.7100),(.9556,.7089),(.9604,.7096),(.9638,.7084),(.9681,.7078),(.9706,.7091),(.9765,.7082),(.9552,.7118),(.9612,.7123),(.9018,.7189),(.9076,.7193),(.9132,.7186),(.9184,.7177),(.9241,.7168),(.9298,.7158),(.9342,.7144),(.9405,.7137),(.9254,.7154),(.8315,.7172),(.8368,.7158),(.8402,.7145),(.8257,.7161),(.8182,.7156),(.8083,.7164),(.7921,.7208),(.7862,.7215),(.7764,.7192),(.7835,.7196),(.7778,.7181),(.8212,.7216),(.8289,.7228),(.8344,.7245),(.8402,.7216)]

f_xticks = [.2, .4, .6, .8]
f_yticks = [.5, .55, .6, .65]
f_xlabels = ["0.2", "0.4", "0.6", "0.8"]
f_ylabels = ["0.5", "0.55", "0.6", "0.65"]
f_plus = [(.81087,.68122),(.95485,.67),(.93163,.66428),(.84803,.66104),(.82016,.65556),(.90098,.6568),(.88518,.64983),(.73934,.65855),(.64366,.65057),(.5647,.64758),(.47181,.65929),(.78579,.64933),(.91305,.63438),(.9084,.62367),(.87125,.64185),(.8824,.62765),(.69011,.64011),(.72726,.64011),(.33247,.61893),(.37426,.61196),(.07981,.60947),(.25165,.60274),(.1857,.59028),(.24886,.58057),(.26744,.56662),(.31203,.56836),(.28323,.55366),(.35569,.59576),(.32782,.5858),(.37612,.57409),(.39749,.57459),(.39749,.59576),(.39749,.55715),(.39749,.55092),(.49225,.55466),(.59071,.51405),
(.79229,.64185),(.783,.64683),(.83409,.63811),(.8666,.63936),(.76907,.64185),
(.54612,.63438),(.60186,.63438),(.62973,.63438),
(.45787,.62815),(.49968,.62815),(.54612,.62815),(.57863,.62815),(.62973,.62815),(.70404,.62815),(.74584,.62815),(.783,.62815),(.81551,.62815),
(.43465,.62317),(.4811,.62317),(.54612,.62317),(.60186,.62317),(.66688,.62317),(.71333,.62317),(.74584,.62317),(.83409,.62317),(.86196,.62317),
(.43465,.61819),(.52754,.61819),(.56006,.61819),(.60186,.61819),(.6483,.61819),(.67617,.61819),(.78764,.61819),(.81551,.61819),(.84338,.61819),
(.45787,.6132),(.50896,.6132),(.57399,.6132),(.62044,.6132),(.6483,.6132),(.70404,.6132),(.7412,.6132),(.77836,.6132),(.81551,.6132),
(.45787,.60822),(.5647,.60822),(.59257,.60822),(.62973,.60822),(.66688,.60822),(.71333,.60822),(.75049,.60822),(.79229,.60822),(.8248,.60822),
(.44394,.60324),(.4811,.60324),(.53683,.60324),(.59257,.60324),(.63902,.60324),(.67617,.60324),(.72262,.60324),(.76442,.60324),(.81551,.60324),
(.4811,.59701),(.49968,.59701),(.53683,.59701),(.60186,.59701),(.65759,.59701),(.69475,.59701),(.7412,.59701),(.75978,.59701),(.85267,.59701),
(.49038,.59203),(.50896,.59203),(.60186,.59203),(.62973,.59203),(.68546,.59203),(.72262,.59203),(.75978,.59203),(.82016,.59203),
(.47181,.58705),(.49503,.58705),(.53683,.58705),(.60186,.58705),(.6483,.58705),(.68546,.58705),(.71333,.58705),
(.45323,.58331),(.49968,.58331),(.56935,.58331),(.62044,.58331),(.68546,.58331),(.71333,.58331),
(.45323,.57708),(.58328,.57708),(.62044,.57708),(.70404,.57708)]
f_plus_dense = [(.6322,.6188),(.6411,.6124),(.6588,.6142),(.6623,.6083),(.6694,.6169),(.6836,.6112),(.6925,.6069),(.7027,.6182),(.7184,.6158),(.7262,.6095),(.7335,.6043),(.7428,.6021),(.7508,.6102),(.7592,.6142),(.7683,.6085),(.7752,.6013),(.7815,.5978),(.7943,.6023),(.8063,.6125),(.8131,.6087),(.8226,.6028),(.6143,.6022),(.6052,.6075),(.5882,.6143),(.5763,.6018),(.5721,.6072),(.6234,.5992),(.6388,.5968),(.6502,.6035),(.6612,.5944),(.6707,.5982),(.6783,.5922),(.6874,.6005),(.7012,.5948),(.7095,.5901),(.7186,.5968),(.7304,.5938),(.7453,.5885),(.6312,.5918),(.6416,.5863),(.6585,.5889),(.6708,.5857),(.6182,.5824),(.6066,.5786),(.5953,.5842),(.7685,.6298),(.7738,.6254),(.8023,.6382),(.8265,.6334),(.8354,.6272),(.7072,.6345),(.6528,.6256),(.5862,.6242),(.6256,.6295),(.5612,.6318),(.6925,.6283),(.8118,.6245),(.7928,.6221)]
f_gray = [(.96414,.66502),(.84338,.64983),(.48388,.62815),(.93906,.60523),(.83409,.59701),(.80344,.58381),(.41421,.57758),(.43929,.5721),(.51361,.57035),(.84617,.56961),(.46252,.56039),(.68546,.56039),(.34454,.54793),(.49503,.54594),(.4811,.5422),(.69011,.53847),(.49503,.528),(.51825,.53099),(.62973,.53473),(.79229,.51978),(.72912,.50982),(.82666,.49487),(.75049,.54968),(.67617,.56711),(.58328,.58455),(.72262,.59701)]
f_black = [(.1699,.57334),(.3882,.58705),(.42071,.58954),(.37891,.56512),(.38356,.55765),(.33247,.55416),(.34826,.55715),(.39285,.54345),(.39006,.53523),(.42536,.53921),(.4811,.53971),(.44394,.56761),(.45323,.56712),(.47181,.5559),(.49317,.56911),(.50246,.56089),(.5229,.55889),(.53219,.55017),(.5554,.54968),(.55077,.55516),(.53683,.57459),(.55077,.56662),(.56006,.56587),(.57863,.57459),(.58328,.56462),(.58328,.54968),(.60186,.54594),(.58792,.53956),(.6,.53473),(.61579,.53473),(.64087,.53722),(.65295,.53921),(.67617,.55217),(.70404,.54469),(.67896,.52426),(.72726,.52476),(.73191,.5422),(.74584,.54469),(.75513,.53797),(.77836,.53398),(.79229,.53348),(.84802,.53647),(.87868,.53797),(.90191,.52974),(.96135,.52974),(.85731,.51604),(.91584,.54793),(.86196,.54769),(.92513,.56164),(.89447,.56537),(.88518,.57035),(.86196,.5716),(.85267,.56338),(.8248,.56338),(.82016,.55964),(.84617,.5559),(.88518,.55715),(.83409,.57583),(.81551,.57708),(.81087,.57085),(.81551,.59078),(.77836,.58156),(.76442,.57833),(.73655,.56338),(.78764,.56761),(.76442,.56712),(.7412,.57085),(.70869,.5696),(.70404,.56587),(.66688,.56214),(.65759,.56711),(.63437,.5696),(.62044,.56214),(.60186,.55964),(.63902,.55964),(.65295,.5559),(.68082,.55341),(.70404,.55217),(.75978,.55715),(.76442,.55341),(.73191,.55092),(.77836,.55964),(.73191,.57708),(.70404,.57957),(.67617,.57459),(.6483,.57833),(.61115,.5721),(.60186,.57833),(.57399,.58331),(.5554,.57957),(.53683,.58455),(.61115,.56462),(.58792,.55964),(.5647,.55715),(.6003,.5645),(.6118,.5598),(.6245,.5577),(.6312,.5622),(.6469,.5618),(.6523,.5665),(.6687,.5687),(.6792,.5724),(.6945,.5742),(.7023,.5706),(.7118,.5742),(.7235,.5793),(.6325,.5736),(.6193,.5695),(.5918,.5703),(.5762,.5672)]

plt.rcParams["font.family"] = ["Liberation Sans", "DejaVu Sans"]
plt.rcParams["mathtext.fontset"] = "cm"
fig = plt.figure(figsize=(W / 100, H / 100), dpi=100)
serif = ["cmr10", "DejaVu Serif"]
ink = "#2b2b2b"


def ftext(px, py, s, **kw):
    return fig.text(px / W, 1 - py / H, s, **kw)


def panel(box, xlim, ylim, xticks, xlabels, yticks, ylabels, gray, black, plus, psize, qpos, ppos):
    left, top, right, bottom = box
    ax = fig.add_axes([left / W, 1 - bottom / H, (right - left) / W, (bottom - top) / H])
    ax.patch.set_alpha(0)
    for series, kw in ((gray, dict(s=46, c="#c8c8c8", marker="o", linewidths=0, zorder=2)),
                       (black, dict(s=psize, c="black", marker="o", linewidths=0, zorder=3)),
                       (plus, dict(s=62, c="#111111", marker="+", linewidths=1.0, zorder=4))):
        xs, ys = zip(*series)
        ax.scatter(xs, ys, clip_on=False, **kw)
    ax.set_xlim(xlim)
    ax.set_ylim(ylim)
    ax.set_xticks(xticks, xlabels)
    ax.set_yticks(yticks, ylabels)
    ax.tick_params(direction="in", length=2.5, width=0.8, color=ink, labelcolor="#333333",
                   labelsize=12.5)
    ax.tick_params(axis="x", pad=5)
    ax.tick_params(axis="y", pad=3)
    for side in ("top", "right"):
        ax.spines[side].set_visible(False)
    for side in ("left", "bottom"):
        ax.spines[side].set_color(ink)
        ax.spines[side].set_linewidth(1.1)
    ftext(qpos[0], qpos[1], r"$Q$", fontsize=20, ha="center", va="center", color="#111111")
    ftext(ppos[0], ppos[1], r"$\bar{p}$", fontsize=19, ha="center", va="center", color="#111111")
    return ax


panel((69.7, 153, 386, 402), (.98517, .99915), (.74047, .75851), a_xticks, a_xlabels, a_yticks, a_ylabels,
      a_gray + a_gray_dense, a_black, a_plus, 30, (416, 421), (29, 116))
panel((504, 156.7, 820.7, 405.7), (.9793, .99872), (.75083, .77158), b_xticks, b_xlabels, b_yticks, b_ylabels,
      b_gray, b_black, b_plus + b_plus_dense, 26, (849, 421), (464, 116))
panel((67.3, 580, 383.3, 829), (.572, .9568), (.71878, .7949), c_xticks, c_xlabels, c_yticks, c_ylabels,
      c_gray, c_black, c_plus + c_plus_dense, 30, (410, 847), (29, 541))
panel((500, 579.3, 816.7, 829), (.2504, .9022), (.6077, .8696), d_xticks, d_xlabels, d_yticks, d_ylabels,
      d_gray, d_black, d_plus + d_plus_dense, 26, (847, 846), (464, 541))
panel((69.3, 1044, 386, 1293.3), (.6241, .9902), (.70233, .74072), e_xticks, e_xlabels, e_yticks, e_ylabels,
      e_gray, e_black + e_black_dense, e_plus, 32, (416, 1312), (29, 1006))
panel((500, 1044, 816.7, 1293.3), (.0811, .9635), (.495, .6814), f_xticks, f_xlabels, f_yticks, f_ylabels,
      f_gray, f_black, f_plus + f_plus_dense, 34, (847, 1312), (464, 1006))

for (cx, cy), title in zip(((442, 73), (442, 501), (443, 962)), section_titles):
    ftext(cx, cy, title, fontsize=19.6, family=serif, ha="center", va="center", color="#222222")

for px, first, rest in ((128, "P", "HONEME DATA"), (544, "C", "ONE-TORUS DATA")):
    head = ftext(px, 27, first, fontsize=21, family=serif, ha="left", va="baseline", color="#222222")
    plt.annotate(rest, xy=(1, 0), xycoords=head, xytext=(0.5, 0), textcoords="offset points",
                 fontsize=16, family=serif, ha="left", va="bottom", color="#222222",
                 annotation_clip=False)

fig.add_artist(plt.Line2D([8 / W, 1], [1 - 47 / H, 1 - 47 / H], color="#333333", lw=1.1))
fig.savefig("out.png", dpi=100)
